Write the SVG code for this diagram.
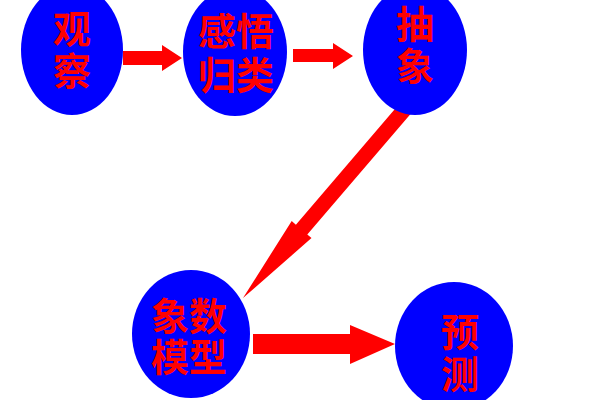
<svg xmlns="http://www.w3.org/2000/svg" width="600" height="400" viewBox="0 0 600 400">
<style>
.node ellipse{fill:#0000FF;}
.node text{fill:#FF0000;font-family:"Noto Sans CJK SC","Noto Sans CJK JP",sans-serif;font-size:38px;font-weight:bold;text-anchor:middle;}
.conn polygon{fill:#FF0000;}
</style>
<rect width="600" height="400" fill="#FFFFFF"/>
<g id="connectors" class="conn">
<polygon points="123,51 162,51 162,45 182,58 162,71 162,65 123,65"/>
<polygon points="293,49 333,49 333,43 353,56 333,69 333,62 293,62"/>
<polygon points="416.3,84.1 427.7,93.9 307.3,234.5 311.5,238.1 243,298 291.7,221.1 295.9,224.7"/>
<polygon points="253,334 350,334 350,325 395,344 350,364 350,354 253,354"/>
</g>
<g id="n1" class="node">
<ellipse cx="72" cy="50" rx="51" ry="65"/>
<text x="72" y="43">观</text>
<text x="72" y="85">察</text>
</g>
<g id="n2" class="node">
<ellipse cx="235" cy="52" rx="52" ry="64"/>
<text x="236" y="45">感悟</text>
<text x="236" y="89">归类</text>
</g>
<g id="n3" class="node">
<ellipse cx="415" cy="50" rx="52" ry="65"/>
<text x="415" y="38">抽</text>
<text x="415" y="80">象</text>
</g>
<g id="n4" class="node">
<ellipse cx="191" cy="334" rx="59" ry="64"/>
<text x="189" y="330">象数</text>
<text x="189" y="371">模型</text>
</g>
<g id="n5" class="node">
<ellipse cx="454" cy="346" rx="59" ry="64"/>
<text x="460" y="346">预</text>
<text x="460" y="388">测</text>
</g>
</svg>
